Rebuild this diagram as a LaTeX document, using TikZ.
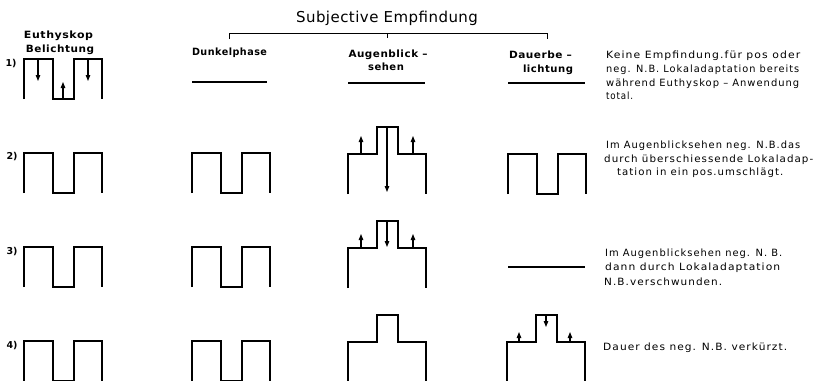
\documentclass[tikz,border=0pt]{standalone}
\usepackage{fontspec}
\usepackage{graphicx}
\setmainfont{DejaVu Sans}
\usetikzlibrary{arrows.meta}
\newcommand\fitw[2]{\resizebox{#1pt}{\height}{#2}}
\begin{document}
\begin{tikzpicture}[x=1pt,y=-1pt,
  wave/.style={line width=1.4pt, line join=miter},
  dark/.style={line width=2.6pt},
  arr/.style={line width=1.1pt,-{Triangle[length=6pt,width=4.5pt]}},
  brk/.style={line width=0.9pt},
  head/.style={font=\fontsize{10}{11}\selectfont\bfseries\addfontfeatures{LetterSpace=5}, inner sep=0pt},
  title/.style={font=\fontsize{15}{17}\selectfont\addfontfeatures{LetterSpace=3}, inner sep=0pt},
  note/.style={font=\fontsize{10}{12}\selectfont\addfontfeatures{LetterSpace=10}, inner sep=0pt},
  num/.style={font=\fontsize{9.5}{10}\selectfont\bfseries, inner sep=0pt},
  sq/.pic={\draw[wave] (0,40) -- (0,0) -- (29,0) -- (29,40) -- (50,40) -- (50,0) -- (78,0) -- (78,40);},
  hat/.pic={\draw[wave] (0,40) -- (0,0) -- (29,0) -- (29,-27) -- (50,-27) -- (50,0) -- (78,0) -- (78,40);}
]
\useasboundingbox (0,0) rectangle (816,380);

% title and bracket
\node[title, anchor=base] (ttl) at (387,23) {Subjective Empfindung};
\coordinate (bl) at (229,39);
\coordinate (br) at (547,39);
\coordinate (bc) at (387,38);
\draw[brk] (bl) -- (229,33) -- (547,33) -- (br);
\draw[brk] (387,33) -- (bc);

% column headers
\node[head, anchor=base] (h1a) at (58.5,38.5) {\fitw{69}{Euthyskop}};
\node[head, anchor=base] (h1b) at (60,52) {\fitw{68}{Belichtung}};
\node[head, anchor=base] (h2) at (229.5,55.5) {\fitw{75}{Dunkelphase}};
\node[head, anchor=base] (h3a) at (388,57) {\fitw{79}{Augenblick –}};
\node[head, anchor=base] (h3b) at (386,70) {sehen};
\node[head, anchor=base] (h4a) at (540.5,58) {\fitw{63}{Dauerbe –}};
\node[head, anchor=base] (h4b) at (548,72) {\fitw{50}{lichtung}};

% row numbers
\node[num, anchor=base] (n1) at (11,66) {1)};
\node[num, anchor=base] (n2) at (12,159.5) {2)};
\node[num, anchor=base] (n3) at (12,254) {3)};
\node[num, anchor=base] (n4) at (12,348.5) {4)};

% row 1
\pic at (24,59) {sq};
\draw[arr] (38,59) -- (38,81);
\draw[arr] (88,59) -- (88,81);
\draw[arr] (63,99) -- (63,82);
\draw[dark] (192,82) -- (267,82);
\draw[dark] (348,83) -- (425,83);
\draw[dark] (508,83) -- (585,83);

% row 2
\pic at (24,153) {sq};
\pic at (192,153) {sq};
\pic at (348,154) {hat};
\draw[arr] (361,154) -- (361,136);
\draw[arr] (413,154) -- (413,136);
\draw[arr] (387,127) -- (387,192);
\pic at (508,154) {sq};

% row 3
\pic at (24,247) {sq};
\pic at (192,247) {sq};
\pic at (348,248) {hat};
\draw[arr] (361,248) -- (361,234);
\draw[arr] (413,248) -- (413,234);
\draw[arr] (387,221) -- (387,247);
\draw[dark] (508,267) -- (585,267);

% row 4
\pic at (24,341) {sq};
\pic at (192,341) {sq};
\pic at (348,342) {hat};
\pic at (507,342) {hat};
\draw[arr] (519,342) -- (519,332);
\draw[arr] (570,342) -- (570,332);
\draw[arr] (546,315) -- (546,327);

% notes
\node[note, anchor=base west] (t1a) at (606,58) {\fitw{194}{Keine Empfindung.für pos oder}};
\node[note, anchor=base west] (t1b) at (606,72) {\fitw{193}{neg. N.B. Lokaladaptation bereits}};
\node[note, anchor=base west] (t1c) at (606,86) {\fitw{193}{während Euthyskop – Anwendung}};
\node[note, anchor=base west] (t1d) at (606,99) {\fitw{27}{total.}};

\node[note, anchor=base west] (t2a) at (606,148) {\fitw{194}{Im Augenblicksehen neg. N.B.das}};
\node[note, anchor=base west] (t2b) at (604,162) {\fitw{209}{durch überschiessende Lokaladap-}};
\node[note, anchor=base west] (t2c) at (617,175.5) {\fitw{166}{tation in ein pos.umschlägt.}};

\node[note, anchor=base west] (t3a) at (605,256.5) {\fitw{177}{Im Augenblicksehen neg. N. B.}};
\node[note, anchor=base west] (t3b) at (605,270) {\fitw{175}{dann durch Lokaladaptation}};
\node[note, anchor=base west] (t3c) at (604,285) {\fitw{118}{N.B.verschwunden.}};

\node[note, anchor=base west] (t4) at (603,350.5) {\fitw{184}{Dauer des neg. N.B. verkürzt.}};
\end{tikzpicture}
\end{document}
